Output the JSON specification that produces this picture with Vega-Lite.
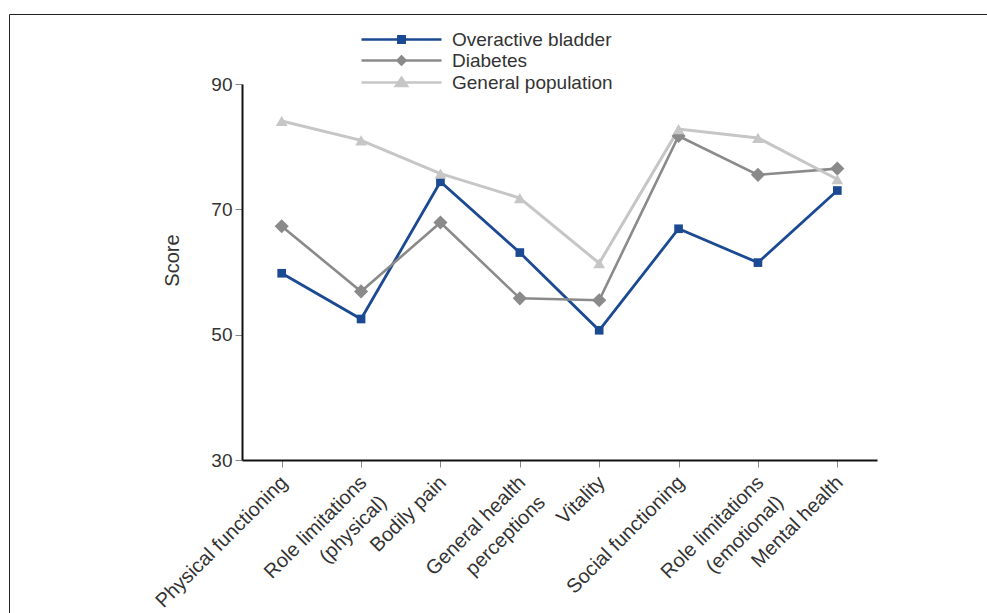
{
  "$schema": "https://vega.github.io/schema/vega-lite/v6.json",
  "width": 635,
  "height": 376,
  "autosize": "none",
  "padding": {"left": 242, "top": 84, "right": 110, "bottom": 153},
  "background": "white",
  "config": {"view": {"stroke": null}, "font": "Liberation Sans"},
  "data": {
    "values": [
      {"domain": "Physical functioning", "group": "Overactive bladder", "score": 59.8},
      {"domain": "Role limitations (physical)", "group": "Overactive bladder", "score": 52.5},
      {"domain": "Bodily pain", "group": "Overactive bladder", "score": 74.4},
      {"domain": "General health perceptions", "group": "Overactive bladder", "score": 63.1},
      {"domain": "Vitality", "group": "Overactive bladder", "score": 50.7},
      {"domain": "Social functioning", "group": "Overactive bladder", "score": 66.9},
      {"domain": "Role limitations (emotional)", "group": "Overactive bladder", "score": 61.5},
      {"domain": "Mental health", "group": "Overactive bladder", "score": 73.0},
      {"domain": "Physical functioning", "group": "Diabetes", "score": 67.3},
      {"domain": "Role limitations (physical)", "group": "Diabetes", "score": 56.9},
      {"domain": "Bodily pain", "group": "Diabetes", "score": 67.9},
      {"domain": "General health perceptions", "group": "Diabetes", "score": 55.8},
      {"domain": "Vitality", "group": "Diabetes", "score": 55.5},
      {"domain": "Social functioning", "group": "Diabetes", "score": 81.7},
      {"domain": "Role limitations (emotional)", "group": "Diabetes", "score": 75.5},
      {"domain": "Mental health", "group": "Diabetes", "score": 76.5},
      {"domain": "Physical functioning", "group": "General population", "score": 84.1},
      {"domain": "Role limitations (physical)", "group": "General population", "score": 81.0},
      {"domain": "Bodily pain", "group": "General population", "score": 75.7},
      {"domain": "General health perceptions", "group": "General population", "score": 71.8},
      {"domain": "Vitality", "group": "General population", "score": 61.4},
      {"domain": "Social functioning", "group": "General population", "score": 82.8},
      {"domain": "Role limitations (emotional)", "group": "General population", "score": 81.4},
      {"domain": "Mental health", "group": "General population", "score": 74.8}
    ]
  },
  "encoding": {
    "x": {
      "field": "domain",
      "type": "nominal",
      "sort": ["Physical functioning", "Role limitations (physical)", "Bodily pain", "General health perceptions", "Vitality", "Social functioning", "Role limitations (emotional)", "Mental health"],
      "scale": {"type": "point", "padding": 0.5},
      "axis": {
        "title": null,
        "labelAngle": -45,
        "labelAlign": "right",
        "labelBaseline": "top",
        "labelFontSize": 20,
        "labelColor": "#333",
        "labelLimit": 400,
        "labelOverlap": false,
        "labelBound": false,
        "labelPadding": 5,
        "labelOffset": -5,
        "labelLineHeight": 28,
        "tickSize": 7,
        "tickColor": "#888",
        "domainColor": "#111",
        "domainWidth": 2,
        "grid": false,
        "labelExpr": "datum.value == 'Role limitations (physical)' ? ['Role limitations', '(physical)'] : datum.value == 'General health perceptions' ? ['General health', 'perceptions'] : datum.value == 'Role limitations (emotional)' ? ['Role limitations', '(emotional)'] : datum.value"
      }
    },
    "y": {
      "field": "score",
      "type": "quantitative",
      "scale": {"domain": [30, 90], "nice": false, "zero": false},
      "axis": {
        "values": [30, 50, 70, 90],
        "title": "Score",
        "titleFontSize": 20,
        "titleFontWeight": "normal",
        "titleColor": "#333",
        "titlePadding": 28,
        "titleY": 176,
        "labelFontSize": 19,
        "labelColor": "#333",
        "labelPadding": 3,
        "tickSize": 7,
        "tickColor": "#888",
        "domainColor": "#111",
        "domainWidth": 2,
        "grid": false
      }
    }
  },
  "layer": [
    {
      "mark": {"type": "line"},
      "encoding": {
        "stroke": {
          "field": "group",
          "type": "nominal",
          "scale": {"domain": ["Overactive bladder", "Diabetes", "General population"], "range": ["#1b4a93", "#8a8a8a", "#c6c6c6"]},
          "legend": {
            "orient": "none",
            "legendX": 118,
            "legendY": -54,
            "title": null,
            "labelFontSize": 19,
            "labelColor": "#333",
            "labelLimit": 400,
            "symbolSize": 256,
            "symbolStrokeWidth": 2.5,
            "labelOffset": 73,
            "rowPadding": 1,
            "encode": {
              "symbols": {
                "update": {
                  "shape": {"signal": "datum.value === 'Overactive bladder' ? 'M-1,0H9M3.6,-0.4H4.4V0.4H3.6Z' : datum.value === 'Diabetes' ? 'M-1,0H9M4,-0.5L4.5,0L4,0.5L3.5,0Z' : 'M-1,0H9M4,-0.6L4.7,0.45H3.3Z'"},
                  "fill": {"scale": "stroke", "field": "value"},
                  "stroke": {"scale": "stroke", "field": "value"},
                  "opacity": {"value": 1}
                }
              }
            }
          }
        },
        "strokeWidth": {"field": "group", "type": "nominal", "scale": {"domain": ["Diabetes", "Overactive bladder", "General population"], "range": [2.6, 3, 2.6]}, "legend": null}
      }
    },
    {
      "mark": {"type": "point", "filled": true, "opacity": 1},
      "encoding": {
        "fill": {"field": "group", "type": "nominal", "scale": {"domain": ["Diabetes", "General population", "Overactive bladder"], "range": ["#8a8a8a", "#c6c6c6", "#1b4a93"]}, "legend": null},
        "shape": {"field": "group", "type": "nominal", "scale": {"domain": ["General population", "Overactive bladder", "Diabetes"], "range": ["triangle-up", "square", "diamond"]}, "legend": null},
        "size": {
          "field": "group",
          "type": "nominal",
          "scale": {"domain": ["Overactive bladder", "General population", "Diabetes"], "range": [75, 200, 100]},
          "legend": {
            "orient": "none",
            "legendX": -233,
            "legendY": -70,
            "title": null,
            "padding": 520,
            "strokeColor": "#222",
            "labelExpr": "''",
            "symbolOpacity": 0,
            "symbolType": "circle"
          }
        }
      }
    }
  ]
}
